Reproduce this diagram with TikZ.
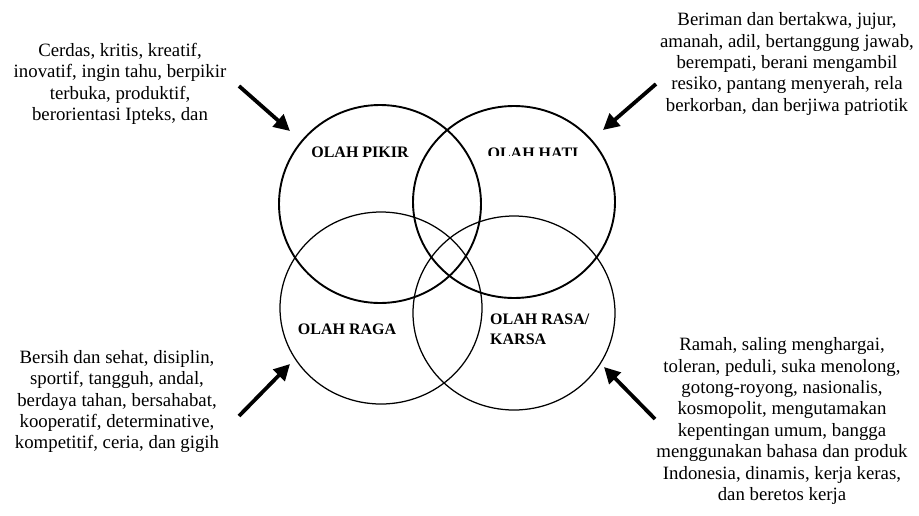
\documentclass[tikz,border=0pt]{standalone}
\usepackage{fontspec}
\setmainfont{Liberation Serif}
\usetikzlibrary{arrows.meta}
\tikzset{
  desc/.style={align=center, inner sep=0pt, font=\fontsize{18.8}{21.4}\selectfont},
  lbl/.style={inner sep=0pt, font=\fontsize{16}{20}\selectfont\bfseries},
  thickcirc/.style={draw, line width=1.9pt},
  thincirc/.style={draw, line width=1.25pt},
  bigarrow/.style={line width=3.8pt, -{Triangle[length=16pt,width=16pt]}}
}
\begin{document}
\begin{tikzpicture}[x=1pt,y=-1pt]
\useasboundingbox (0,0) rectangle (919,515);
% circles
\draw[thickcirc] (380,204) ellipse [x radius=101, y radius=99];
\draw[thickcirc] (514,202) ellipse [x radius=101, y radius=96];
\draw[thincirc] (381,308) ellipse [x radius=101, y radius=96];
\draw[thincirc] (514,313) ellipse [x radius=101, y radius=97];
% circle labels
\node[lbl] (pikir) at (360,152) {OLAH PIKIR};
\begin{scope}
\clip (440,130) rectangle (620,155.5);
\node[lbl] (hati) at (533,153) {OLAH HATI};
\end{scope}
\node[lbl] (raga) at (347,329) {OLAH RAGA};
\node[lbl, align=left, anchor=west] (rasa) at (490,329) {OLAH RASA/\\KARSA};
% descriptions
\node[desc] (tl) at (120,84) {Cerdas, kritis, kreatif,\\inovatif, ingin tahu, berpikir\\terbuka, produktif,\\berorientasi Ipteks, dan};
\node[desc] (tr) at (787,64) {Beriman dan bertakwa, jujur,\\amanah, adil, bertanggung jawab,\\berempati, berani mengambil\\resiko, pantang menyerah, rela\\berkorban, dan berjiwa patriotik};
\node[desc] (bl) at (117,401.5) {Bersih dan sehat, disiplin,\\sportif, tangguh, andal,\\berdaya tahan, bersahabat,\\kooperatif, determinative,\\kompetitif, ceria, dan gigih};
\node[desc] (br) at (782,421) {Ramah, saling menghargai,\\toleran, peduli, suka menolong,\\gotong-royong, nasionalis,\\kosmopolit, mengutamakan\\kepentingan umum, bangga\\menggunakan bahasa dan produk\\Indonesia, dinamis, kerja keras,\\dan beretos kerja};
% arrows
\coordinate (a1s) at (239,86); \coordinate (a1e) at (290,131);
\coordinate (a2s) at (656,84); \coordinate (a2e) at (603,130);
\coordinate (a3s) at (239,416); \coordinate (a3e) at (290,364);
\coordinate (a4s) at (655,419); \coordinate (a4e) at (604,367);
\draw[bigarrow] (a1s) -- (a1e);
\draw[bigarrow] (a2s) -- (a2e);
\draw[bigarrow] (a3s) -- (a3e);
\draw[bigarrow] (a4s) -- (a4e);
\end{tikzpicture}
\end{document}
